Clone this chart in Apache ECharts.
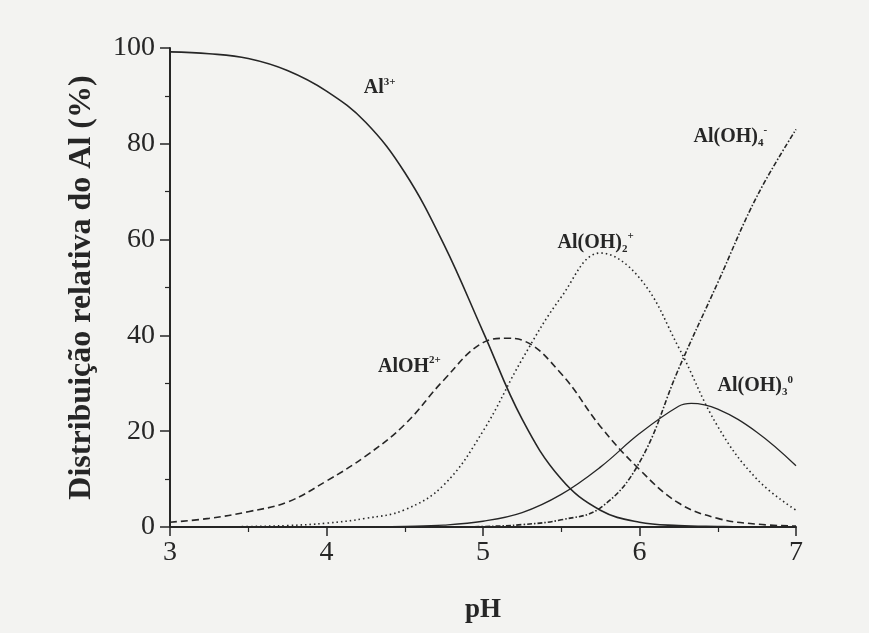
<!DOCTYPE html>
<html>
<head>
<meta charset="utf-8">
<script src="https://cdn.jsdelivr.net/npm/echarts@6/dist/echarts.min.js"></script>
<style>
  html, body { margin: 0; padding: 0; background: #f3f3f1; }
  #chart { width: 869px; height: 633px; }
</style>
</head>
<body>
<div id="chart"></div>
<script>
// pH grid of the speciation table
const pH = [3, 3.25, 3.5, 3.75, 4, 4.25, 4.5, 4.75, 5, 5.25, 5.5, 5.75, 6, 6.25, 6.5, 6.75, 7];

// relative distribution (%) of each aluminium species
const al3 =   [99.2, 98.8, 97.8, 95.3, 91, 84.5, 74, 59, 40.8, 22.5, 10, 3.5, 1, 0.3, 0.1, 0, 0];
const alOH =  [1, 1.8, 3.2, 5.2, 9.6, 14.8, 21.4, 30.7, 38.5, 39, 32, 21, 12, 5, 1.8, 0.6, 0.2];
const alOH2 = [0, 0, 0.1, 0.3, 0.8, 1.8, 3.6, 8.8, 20, 35, 48, 57.2, 52, 37.5, 21, 10, 3.5];
const alOH3 = [0, 0, 0, 0, 0, 0.05, 0.15, 0.4, 1.2, 3, 6.8, 12.5, 19.5, 25.2, 24.6, 19.8, 12.8];
const alOH4 = [0, 0, 0, 0, 0, 0, 0, 0, 0.1, 0.5, 1.5, 4, 13.5, 33, 51, 69, 83];

// maxima that fall between grid points: [pH, %]
const alOHPeak = [5.15, 39.4];
const alOH3Peak = [6.33, 25.8];

const xTicks = [3, 4, 5, 6, 7];
const yTicks = [0, 20, 40, 60, 80, 100];

const serif = '"Liberation Serif", "DejaVu Serif", serif';
const ink = '#262626';

// build [pH, %] pairs, slotting an optional extra point in pH order
function pairs(ys, extra) {
  const out = pH.map((x, i) => [x, ys[i]]);
  if (extra) {
    out.push(extra.slice());
    out.sort((a, b) => a[0] - b[0]);
  }
  return out;
}

// rich-text styles for the species labels
const rich = {
  b:   { fontFamily: serif, fontWeight: 'bold', fontSize: 20, color: ink },
  sup: { fontFamily: serif, fontWeight: 'bold', fontSize: 11, color: ink, padding: [0, 0, 13, 0] },
  sub: { fontFamily: serif, fontWeight: 'bold', fontSize: 11, color: ink, padding: [12, 0, 0, 0] }
};

function tag(coord, text) {
  return {
    symbol: 'circle',
    symbolSize: 0,
    data: [{ coord: coord }],
    label: { show: true, position: 'inside', formatter: text, rich: rich },
    silent: true
  };
}

function line(name, data, type, width, label) {
  return {
    name: name,
    type: 'line',
    data: data,
    smooth: 0.4,
    showSymbol: false,
    symbol: 'none',
    clip: true,
    lineStyle: { color: ink, width: width, type: type },
    markPoint: label
  };
}

const chart = echarts.init(document.getElementById('chart'));
chart.setOption({
  backgroundColor: '#f3f3f1',
  animation: false,
  grid: { left: 170, right: 73, top: 48, bottom: 106 },
  xAxis: {
    type: 'value',
    min: xTicks[0],
    max: xTicks[xTicks.length - 1],
    interval: 1,
    name: 'pH',
    nameLocation: 'middle',
    nameGap: 70,
    nameTextStyle: { fontFamily: serif, fontWeight: 'bold', fontSize: 27, color: ink },
    axisLine: { lineStyle: { color: ink, width: 2 } },
    axisTick: { length: 9, inside: false, lineStyle: { color: ink, width: 1.5 } },
    minorTick: { show: true, splitNumber: 2, length: 5, lineStyle: { color: ink, width: 1.2 } },
    axisLabel: { fontFamily: serif, fontSize: 28, color: ink, margin: 12 },
    splitLine: { show: false }
  },
  yAxis: {
    type: 'value',
    min: yTicks[0],
    max: yTicks[yTicks.length - 1],
    interval: 20,
    name: 'Distribuição relativa do Al (%)',
    nameLocation: 'middle',
    nameGap: 72,
    nameTextStyle: { fontFamily: serif, fontWeight: 'bold', fontSize: 32, color: ink },
    axisLine: { show: true, lineStyle: { color: ink, width: 2 } },
    axisTick: { show: true, length: 10, lineStyle: { color: ink, width: 1.5 } },
    minorTick: { show: true, splitNumber: 2, length: 5, lineStyle: { color: ink, width: 1.2 } },
    axisLabel: { fontFamily: serif, fontSize: 28, color: ink, margin: 15 },
    splitLine: { show: false }
  },
  series: [
    line('Al3+', pairs(al3), 'solid', 1.6, tag([4.34, 91.6], '{b|Al}{sup|3+}')),
    line('AlOH2+', pairs(alOH, alOHPeak), [7, 4], 1.6, tag([4.53, 33.4], '{b|AlOH}{sup|2+}')),
    line('Al(OH)2+', pairs(alOH2), [1.5, 3], 1.6, tag([5.72, 59.3], '{b|Al(OH)}{sub|2}{sup|+}')),
    line('Al(OH)3', pairs(alOH3, alOH3Peak), 'solid', 1.3, tag([6.74, 29.4], '{b|Al(OH)}{sub|3}{sup|0}')),
    line('Al(OH)4-', pairs(alOH4), [5, 2, 1.5, 2], 1.6, tag([6.58, 81.4], '{b|Al(OH)}{sub|4}{sup|-}'))
  ]
});
</script>
</body>
</html>
